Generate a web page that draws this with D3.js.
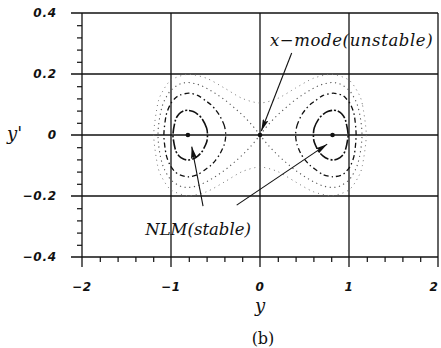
<!DOCTYPE html>
<html>
<head>
<meta charset="utf-8">
<script src="https://cdn.jsdelivr.net/npm/d3@7/dist/d3.min.js"></script>
<style>
  html, body { margin: 0; padding: 0; background: #fff; }
  svg { display: block; }
</style>
</head>
<body>
<svg id="chart" width="441" height="348"></svg>
<script>
// Axis ticks and labels
const xTicks = [-2, -1, 0, 1, 2];
const xTickLabels = ["\u22122", "\u22121", "0", "1", "2"];
const yTicks = [-0.4, -0.2, 0, 0.2, 0.4];
const yTickLabels = ["\u22120.4", "\u22120.2", "0", "0.2", "0.4"];
const xMinorTicks = [-1.8, -1.6, -1.4, -1.2, -0.8, -0.6, -0.4, -0.2, 0.2, 0.4, 0.6, 0.8, 1.2, 1.4, 1.6, 1.8];
const yMinorTicks = [-0.36, -0.32, -0.28, -0.24, -0.16, -0.12, -0.08, -0.04, 0.04, 0.08, 0.12, 0.16, 0.24, 0.28, 0.32, 0.36];

// Phase-plane orbits, [y, y'] pairs
const innerLeft = [[-0.59,0],[-0.60,0.023],[-0.65,0.053],[-0.70,0.068],[-0.75,0.077],[-0.81,0.081],[-0.86,0.079],[-0.91,0.069],[-0.95,0.049],[-0.978,0],
  [-0.95,-0.049],[-0.91,-0.069],[-0.86,-0.079],[-0.81,-0.082],[-0.75,-0.078],[-0.70,-0.069],[-0.65,-0.054],[-0.60,-0.024]];
const innerRight = [[0.60,0],[0.61,0.024],[0.66,0.053],[0.71,0.068],[0.76,0.077],[0.82,0.081],[0.87,0.079],[0.92,0.069],[0.96,0.049],[0.99,0],
  [0.96,-0.049],[0.92,-0.069],[0.87,-0.079],[0.82,-0.082],[0.76,-0.078],[0.71,-0.069],[0.66,-0.054],[0.61,-0.024]];
const midLeft = [[-0.385,0],[-0.40,0.030],[-0.45,0.062],[-0.50,0.083],[-0.55,0.099],[-0.61,0.112],[-0.70,0.130],[-0.80,0.137],[-0.90,0.131],[-0.96,0.119],[-1.01,0.099],[-1.055,0.064],[-1.08,0],
  [-1.055,-0.064],[-1.01,-0.099],[-0.96,-0.119],[-0.90,-0.131],[-0.80,-0.137],[-0.70,-0.130],[-0.61,-0.112],[-0.55,-0.099],[-0.50,-0.083],[-0.45,-0.062],[-0.40,-0.030]];
const midRight = [[0.40,0],[0.415,0.030],[0.46,0.062],[0.51,0.083],[0.56,0.099],[0.62,0.112],[0.71,0.130],[0.82,0.137],[0.92,0.131],[0.97,0.119],[1.02,0.099],[1.06,0.064],[1.08,0],
  [1.06,-0.064],[1.02,-0.099],[0.97,-0.119],[0.92,-0.131],[0.82,-0.137],[0.71,-0.130],[0.62,-0.112],[0.56,-0.099],[0.51,-0.083],[0.46,-0.062],[0.415,-0.030]];
const separatrixLeft = [[0,0],[-0.1,0.036],[-0.2,0.066],[-0.3,0.092],[-0.4,0.116],[-0.5,0.136],[-0.6,0.153],[-0.7,0.166],[-0.81,0.172],[-0.9,0.167],[-1.0,0.147],[-1.05,0.126],[-1.1,0.093],[-1.146,0],
  [-1.1,-0.093],[-1.05,-0.126],[-1.0,-0.147],[-0.9,-0.167],[-0.81,-0.172],[-0.7,-0.166],[-0.6,-0.153],[-0.5,-0.136],[-0.4,-0.116],[-0.3,-0.092],[-0.2,-0.066],[-0.1,-0.036],[0,0]];
const separatrixRight = [[0,0],[0.1,0.036],[0.2,0.066],[0.3,0.092],[0.4,0.116],[0.5,0.136],[0.6,0.153],[0.7,0.166],[0.81,0.172],[0.9,0.167],[1.0,0.147],[1.05,0.126],[1.1,0.093],[1.146,0],
  [1.1,-0.093],[1.05,-0.126],[1.0,-0.147],[0.9,-0.167],[0.81,-0.172],[0.7,-0.166],[0.6,-0.153],[0.5,-0.136],[0.4,-0.116],[0.3,-0.092],[0.2,-0.066],[0.1,-0.036],[0,0]];
const outerOrbit = [[1.194,0],[1.15,0.101],[1.1,0.140],[1.0,0.180],[0.81,0.199],[0.6,0.186],[0.4,0.154],[0.2,0.120],[0,0.105],[-0.2,0.120],[-0.4,0.154],[-0.6,0.186],[-0.81,0.199],[-1.0,0.180],[-1.1,0.140],[-1.15,0.101],[-1.194,0],
  [-1.15,-0.101],[-1.1,-0.140],[-1.0,-0.180],[-0.81,-0.199],[-0.6,-0.186],[-0.4,-0.154],[-0.2,-0.120],[0,-0.105],[0.2,-0.120],[0.4,-0.154],[0.6,-0.186],[0.81,-0.199],[1.0,-0.180],[1.1,-0.140],[1.15,-0.101]];

// Fixed points: two stable centres and the saddle
const centers = [[-0.81, 0], [0.815, 0]];
const saddle = [[0, 0]];

// Annotations: text anchor and arrow [from, to] in data units
const annotations = [
  { text: "x\u2212mode(unstable)", at: [0.112, 0.292], spacing: 0.6, arrows: [[[0.356, 0.269], [0.015, 0.013]]] },
  { text: "NLM(stable)", at: [-1.29, -0.328], spacing: 0, arrows: [[[-0.64, -0.233], [-0.767, -0.038]], [[-0.262, -0.23], [0.755, -0.03]]] }
];

const svg = d3.select("#chart");
const x = d3.scaleLinear().domain([-2, 2]).range([82, 438]);
const y = d3.scaleLinear().domain([-0.4, 0.4]).range([257, 13]);
const ink = "#111";
const tickFont = "'DejaVu Sans', sans-serif";
const serif = "'DejaVu Serif', serif";

// Grid: major lines cross the whole plot and stick out past the left and bottom edges
svg.append("g").selectAll("line").data(yTicks).join("line")
  .attr("x1", x(-2) - 11).attr("x2", x(2))
  .attr("y1", d => y(d)).attr("y2", d => y(d))
  .attr("stroke", ink).attr("stroke-width", 1.3);
svg.append("g").selectAll("line").data(xTicks).join("line")
  .attr("x1", d => x(d)).attr("x2", d => x(d))
  .attr("y1", y(0.4)).attr("y2", y(-0.4) + 10)
  .attr("stroke", ink).attr("stroke-width", 1.3);

// Minor ticks, outward
const minorY = svg.append("g").attr("transform", `translate(${x(-2)},0)`)
  .call(d3.axisLeft(y).tickValues(yMinorTicks).tickSize(5).tickFormat(""));
const minorX = svg.append("g").attr("transform", `translate(0,${y(-0.4)})`)
  .call(d3.axisBottom(x).tickValues(xMinorTicks).tickSize(5).tickFormat(""));
[minorY, minorX].forEach(g => {
  g.select(".domain").remove();
  g.selectAll("line").attr("stroke", ink).attr("stroke-width", 1.2);
});

// Tick labels (the last x label is pulled in so it stays inside the page)
svg.append("g").selectAll("text").data(yTicks).join("text")
  .attr("x", 57).attr("y", d => y(d)).attr("dy", "0.36em")
  .attr("text-anchor", "end")
  .attr("font-family", tickFont).attr("font-style", "italic").attr("font-weight", "bold")
  .attr("font-size", 12).attr("letter-spacing", 0.8).attr("fill", ink)
  .text((d, i) => yTickLabels[i]);
svg.append("g").selectAll("text").data(xTicks).join("text")
  .attr("x", d => Math.min(x(d), 434)).attr("y", 291)
  .attr("text-anchor", "middle")
  .attr("font-family", tickFont).attr("font-style", "italic").attr("font-weight", "bold")
  .attr("font-size", 12).attr("letter-spacing", 0.8).attr("fill", ink)
  .text((d, i) => xTickLabels[i]);

// Axis titles and panel tag
svg.append("text").attr("x", 7).attr("y", 140)
  .attr("font-family", serif).attr("font-style", "italic").attr("font-size", 18).attr("fill", ink)
  .text("y'");
svg.append("text").attr("x", x(0)).attr("y", 312).attr("text-anchor", "middle")
  .attr("font-family", serif).attr("font-style", "italic").attr("font-size", 18).attr("fill", ink)
  .text("y");
svg.append("text").attr("x", x(0) + 3).attr("y", 344).attr("text-anchor", "middle")
  .attr("font-family", serif).attr("font-size", 16).attr("fill", ink)
  .text("(b)");

// Orbits
const closed = d3.line().x(d => x(d[0])).y(d => y(d[1])).curve(d3.curveCardinalClosed.tension(0.2));
const open = d3.line().x(d => x(d[0])).y(d => y(d[1])).curve(d3.curveCatmullRom.alpha(0.5));
const orbits = svg.append("g").attr("fill", "none");
orbits.selectAll(".outer").data([outerOrbit]).join("path").attr("class", "outer")
  .attr("d", closed).attr("stroke", "#777").attr("stroke-width", 1).attr("stroke-dasharray", "1,4");
orbits.selectAll(".sep").data([separatrixLeft, separatrixRight]).join("path").attr("class", "sep")
  .attr("d", open).attr("stroke", "#555").attr("stroke-width", 1.1).attr("stroke-dasharray", "1.2,3.5");
orbits.selectAll(".mid").data([midLeft, midRight]).join("path").attr("class", "mid")
  .attr("d", closed).attr("stroke", ink).attr("stroke-width", 1.3).attr("stroke-dasharray", "5,3,1.5,3");
orbits.selectAll(".inner").data([innerLeft, innerRight]).join("path").attr("class", "inner")
  .attr("d", closed).attr("stroke", ink).attr("stroke-width", 1.6).attr("stroke-dasharray", "10,2,2,2");

// Fixed points
svg.append("g").selectAll("circle").data(centers.concat(saddle)).join("circle")
  .attr("cx", d => x(d[0])).attr("cy", d => y(d[1])).attr("r", 2.3).attr("fill", ink);

// Annotation arrows and labels
svg.append("defs").append("marker")
  .attr("id", "head").attr("markerUnits", "userSpaceOnUse")
  .attr("viewBox", "0 0 12 6").attr("refX", 12).attr("refY", 3)
  .attr("markerWidth", 12).attr("markerHeight", 6).attr("orient", "auto")
  .append("path").attr("d", "M0,0 L12,3 L0,6 L2,3 Z").attr("fill", ink);

const ann = svg.append("g");
annotations.forEach(a => {
  ann.append("text").attr("x", x(a.at[0])).attr("y", y(a.at[1]))
    .attr("font-family", serif).attr("font-style", "italic").attr("font-size", 16.5)
    .attr("letter-spacing", a.spacing).attr("fill", ink)
    .text(a.text);
  a.arrows.forEach(([from, to]) => {
    ann.append("line")
      .attr("x1", x(from[0])).attr("y1", y(from[1]))
      .attr("x2", x(to[0])).attr("y2", y(to[1]))
      .attr("stroke", ink).attr("stroke-width", 1.1)
      .attr("marker-end", "url(#head)");
  });
});
</script>
</body>
</html>
